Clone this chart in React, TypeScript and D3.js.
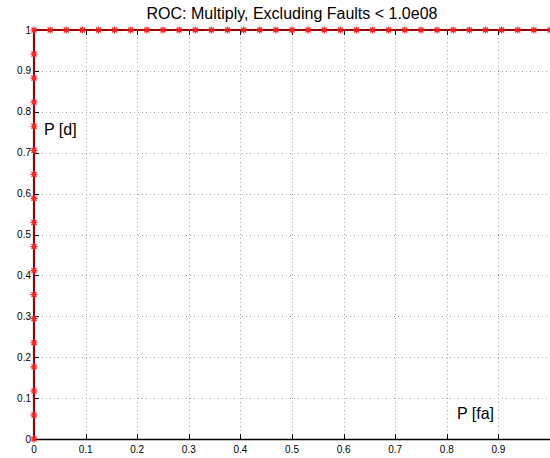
import { useEffect, useRef } from "react";
import * as d3 from "d3";

// ROC points: vertical run at P[fa]=0, then horizontal run at P[d]=1
const pdSteps = d3.range(0, 18).map((k) => k / 17);
const pfaSteps = d3.range(1, 33).map((k) => k / 32);
const rocPfa = [...pdSteps.map(() => 0), ...pfaSteps];
const rocPd = [...pdSteps, ...pfaSteps.map(() => 1)];

const xTicks = [0, 0.1, 0.2, 0.3, 0.4, 0.5, 0.6, 0.7, 0.8, 0.9];
const yTicks = [0, 0.1, 0.2, 0.3, 0.4, 0.5, 0.6, 0.7, 0.8, 0.9, 1];

const title = "ROC: Multiply, Excluding Faults < 1.0e08";

const App = () => {
    const svgRef = useRef<SVGSVGElement>(null);

    useEffect(() => {
        if (!svgRef.current) return;
        const svg = d3.select(svgRef.current);
        svg.selectAll("*").remove();

        const width = 550;
        const height = 458;
        const margin = { top: 30, right: 0, bottom: 19, left: 34 };
        const font = "Liberation Sans, Arial, Helvetica, sans-serif";

        const x = d3.scaleLinear().domain([0, 1]).range([margin.left, width - margin.right]);
        const y = d3.scaleLinear().domain([0, 1]).range([height - margin.bottom, margin.top]);

        svg.attr("width", width).attr("height", height).style("background", "#fff");

        // Grid (dotted)
        const grid = svg.append("g").attr("stroke", "#a8a8a8").attr("stroke-width", 1).attr("stroke-dasharray", "1,3");
        xTicks.filter((t) => t > 0).forEach((t) => {
            grid.append("line")
                .attr("x1", Math.round(x(t)) + 0.5).attr("x2", Math.round(x(t)) + 0.5)
                .attr("y1", y(0)).attr("y2", y(1));
        });
        yTicks.filter((t) => t > 0 && t < 1).forEach((t) => {
            grid.append("line")
                .attr("x1", x(0)).attr("x2", x(1))
                .attr("y1", Math.round(y(t)) + 0.5).attr("y2", Math.round(y(t)) + 0.5);
        });

        // Axes box and inward ticks
        const ax = svg.append("g").attr("stroke", "#000").attr("stroke-width", 1);
        ax.append("line").attr("x1", x(0)).attr("x2", x(1)).attr("y1", y(0) + 0.5).attr("y2", y(0) + 0.5).attr("stroke-width", 1.5);
        ax.append("line").attr("x1", x(0)).attr("x2", x(1)).attr("y1", y(1) + 0.5).attr("y2", y(1) + 0.5);
        ax.append("line").attr("x1", x(0) + 0.5).attr("x2", x(0) + 0.5).attr("y1", y(0)).attr("y2", y(1));
        const tl = 5;
        xTicks.forEach((t) => {
            const px = Math.round(x(t)) + 0.5;
            ax.append("line").attr("x1", px).attr("x2", px).attr("y1", y(0)).attr("y2", y(0) - tl);
            ax.append("line").attr("x1", px).attr("x2", px).attr("y1", y(1)).attr("y2", y(1) + tl);
        });
        yTicks.forEach((t) => {
            const py = Math.round(y(t)) + 0.5;
            ax.append("line").attr("x1", x(0)).attr("x2", x(0) + tl).attr("y1", py).attr("y2", py);
        });

        // Tick labels
        svg.append("g").selectAll("text").data(xTicks).enter().append("text")
            .attr("x", (d) => x(d)).attr("y", y(0) + 14)
            .attr("text-anchor", "middle").attr("font-family", font).attr("font-size", 10).attr("fill", "#000")
            .text((d) => `${d}`);
        svg.append("g").selectAll("text").data(yTicks).enter().append("text")
            .attr("x", x(0) - 3).attr("y", (d) => y(d)).attr("dy", "0.35em")
            .attr("text-anchor", "end").attr("font-family", font).attr("font-size", 10).attr("fill", "#000")
            .text((d) => `${d}`);

        // ROC line
        const pts = rocPfa.map((v, i) => [v, rocPd[i]] as [number, number]);
        const line = d3.line<[number, number]>().x((d) => x(d[0])).y((d) => y(d[1]));
        svg.append("path").datum(pts)
            .attr("d", line).attr("fill", "none").attr("stroke", "#9a0000").attr("stroke-width", 2.2);

        // Asterisk markers
        const r = 3.5;
        const a = r * 0.72;
        const star = `M${-r},0H${r}M0,${-r}V${r}M${-a},${-a}L${a},${a}M${-a},${a}L${a},${-a}`;
        svg.append("g").selectAll("path").data(pts).enter().append("path")
            .attr("transform", (d) => `translate(${x(d[0])},${y(d[1])})`)
            .attr("d", star).attr("fill", "none").attr("stroke", "#ff2020").attr("stroke-width", 1.2);

        // Title and axis labels
        svg.append("text")
            .attr("x", (x(0) + x(1)) / 2).attr("y", 19)
            .attr("text-anchor", "middle").attr("font-family", font).attr("font-size", 16).attr("fill", "#000")
            .text(title);
        svg.append("text")
            .attr("x", 44).attr("y", 135)
            .attr("font-family", font).attr("font-size", 16).attr("fill", "#000")
            .text("P [d]");
        svg.append("text")
            .attr("x", 457).attr("y", 419)
            .attr("font-family", font).attr("font-size", 16).attr("fill", "#000")
            .text("P [fa]");
    }, []);

    return (
        <div style={{ position: "absolute", left: 0, top: 0 }}>
            <svg ref={svgRef} style={{ display: "block" }} />
        </div>
    );
};

export default App;
